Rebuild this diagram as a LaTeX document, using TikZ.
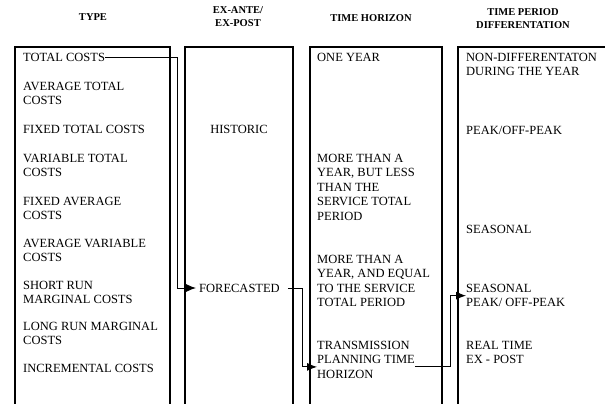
\documentclass[tikz,border=0pt]{standalone}
\usepackage{fontspec}
\setmainfont{Liberation Serif}
\usepackage{tikz}
\usetikzlibrary{positioning,arrows.meta}
\tikzstyle{colbox}=[draw, line width=1.3pt]
\tikzstyle{head}=[align=center, inner sep=0pt, font=\fontsize{10.5}{13}\selectfont\bfseries]
\tikzstyle{item}=[anchor=north west, align=left, inner sep=0pt, font=\fontsize{12.5}{14.5}\selectfont]
\tikzstyle{item1}=[anchor=west, inner sep=0pt, font=\fontsize{12.5}{14.5}\selectfont]
\tikzstyle{link}=[-{Latex[length=10pt,width=8pt]}, line width=0.9pt]

\begin{document}
\begin{tikzpicture}[x=1pt,y=-1pt]
\useasboundingbox (0,0) rectangle (605,404);

% column boxes, open at the bottom
\draw[colbox] (15,404) |- (170,47) -- (170,404);
\draw[colbox] (185,404) |- (293,47) -- (293,404);
\draw[colbox] (310,404) |- (442,47) -- (442,404);
\draw[colbox] (458,404) |- (605,47);

\node[head] at (93,17) (htype) {TYPE};
\node[head] at (238,16.5) (hexa) {EX-ANTE/\\EX-POST};
\node[head] at (371,18) (hhor) {TIME HORIZON};
\node[head] at (523,18.5) (hdiff) {TIME PERIOD\\DIFFERENTATION};

% type
\node[item1] at (23,57) (tc) {TOTAL COSTS};
\node[item] at (23,82) (atc) {AVERAGE TOTAL\\COSTS};
\node[item1] at (23,129) (ftc) {FIXED TOTAL COSTS};
\node[item] at (23,154) (vtc) {VARIABLE TOTAL\\COSTS};
\node[item] at (23,197) (fac) {FIXED AVERAGE\\COSTS};
\node[item] at (23,239) (avc) {AVERAGE VARIABLE\\COSTS};
\node[item] at (23,281) (srmc) {SHORT RUN\\MARGINAL COSTS};
\node[item] at (23,322) (lrmc) {LONG RUN MARGINAL\\COSTS};
\node[item1] at (23,368) (inc) {INCREMENTAL COSTS};

% ex-ante / ex-post
\node[item1, anchor=center] at (239,129) (hist) {HISTORIC};
\node[item1] at (199,288) (fc) {FORECASTED};

% time horizon
\node[item1] at (317,57) (oy) {ONE YEAR};
\node[item] at (317,154) (less) {MORE THAN A\\YEAR, BUT LESS\\THAN THE\\SERVICE TOTAL\\PERIOD};
\node[item] at (317,255) (equal) {MORE THAN A\\YEAR, AND EQUAL\\TO THE SERVICE\\TOTAL PERIOD};
\node[item] at (317,341) (tr) {TRANSMISSION\\PLANNING TIME\\HORIZON};

% time period differentation
\node[item] at (466,53) (nd) {NON-DIFFERENTATON\\DURING THE YEAR};
\node[item1] at (466,130) (pk) {PEAK/OFF-PEAK};
\node[item1] at (466,229) (sea) {SEASONAL};
\node[item] at (466,284) (sp) {SEASONAL\\PEAK/ OFF-PEAK};
\node[item] at (466,341) (rt) {REAL TIME\\EX - POST};

\coordinate (bendA) at (177,0);
\coordinate (bendB) at (302,0);
\coordinate (bendC) at (450,0);

\draw[link, shorten >=3pt] (tc.east) -- (tc.east -| bendA) |- (fc.west);
\draw[link, shorten <=8pt] (fc.east) -- (fc.east -| bendB) |- ([yshift=-7pt]tr.west);
\draw[link] ([yshift=-7pt]tr.east) -| (bendC |- sp.west) -- (sp.west);
\end{tikzpicture}
\end{document}
